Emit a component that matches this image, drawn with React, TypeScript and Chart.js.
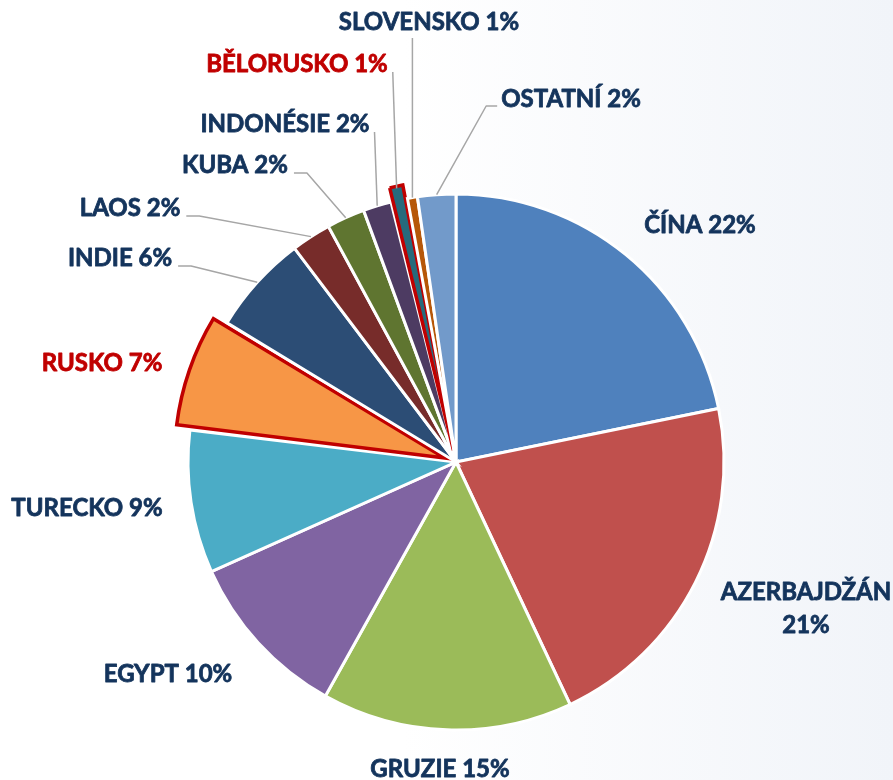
import React, { useEffect, useRef } from "react";
import { Chart, registerables } from "chart.js";

Chart.register(...registerables);

// ---- data ----
const countries = [
  "ČÍNA",
  "AZERBAJDŽÁN",
  "GRUZIE",
  "EGYPT",
  "TURECKO",
  "RUSKO",
  "INDIE",
  "LAOS",
  "KUBA",
  "INDONÉSIE",
  "BĚLORUSKO",
  "SLOVENSKO",
  "OSTATNÍ",
];
const shares = [21.8, 21.2, 15.1, 10.2, 8.6, 6.8, 6.0, 2.4, 2.3, 1.7, 1.0, 0.6, 2.3];
const highlighted = ["RUSKO", "BĚLORUSKO"];

// ---- styles ----
const sliceColors = [
  "#4F81BD",
  "#C0504D",
  "#9BBB59",
  "#8064A2",
  "#4BACC6",
  "#F79646",
  "#2C4D75",
  "#772C2A",
  "#5F7530",
  "#4D3B62",
  "#276A7C",
  "#B65708",
  "#729ACA",
];
const TEXT_COLOR = "#14345C";
const HIGHLIGHT_COLOR = "#C00000";
const LEADER_COLOR = "#A6A6A6";
const FONT = "bold 24px Lato, 'Open Sans', sans-serif";
const REF_R = 268;
const EXPLODE = 48; // Chart.js translates an arc by offset/4

// label anchor (text centre x, baseline y) relative to the pie centre, at radius REF_R
type Leader = "none" | "stubRight" | "cornerRight" | "below" | "stubLeft";
const labelDx = [244, 350, -16, -288, -369, -354, -336, -326, -221, -171, -159, -27, 115];
const labelDy = [-229, 138, 315, 220, 54, -91, -196, -246, -289, -330, -390, -432, -355];
const labelLeader: Leader[] = [
  "none",
  "none",
  "none",
  "none",
  "none",
  "none",
  "stubRight",
  "stubRight",
  "stubRight",
  "cornerRight",
  "cornerRight",
  "below",
  "stubLeft",
];
const labelWrap = [false, true, false, false, false, false, false, false, false, false, false, false, false];

// keep exploded slices at (about) the same radius as the rest
const explodeRadiusFix = {
  id: "explodeRadiusFix",
  beforeDatasetsDraw(chart: any) {
    const meta = chart.getDatasetMeta(0);
    const baseR = meta.controller.outerRadius;
    meta.data.forEach((el: any) => {
      const off = el.options.offset || 0;
      if (!off) return;
      const circ = el.endAngle - el.startAngle;
      const fix = 1 - Math.sin(Math.min(Math.PI, circ || 0));
      el.outerRadius = baseR + 2 - (off / 4) * fix;
    });
  },
};

const labelPlugin = {
  id: "sliceLabels",
  afterDatasetsDraw(chart: any) {
    const ctx: CanvasRenderingContext2D = chart.ctx;
    const meta = chart.getDatasetMeta(0);
    const R = meta.controller.outerRadius;
    ctx.save();
    ctx.font = FONT;
    ctx.textBaseline = "alphabetic";
    ctx.textAlign = "center";
    ctx.lineJoin = "round";
    meta.data.forEach((el: any, i: number) => {
      const { x, y, startAngle, endAngle } = el.getProps(["x", "y", "startAngle", "endAngle"], true);
      const off = (el.options.offset || 0) / 4;
      const mid = (startAngle + endAngle) / 2;
      const s = R / REF_R;
      const cx = x + labelDx[i] * s;
      const by = y + labelDy[i] * s;
      const pct = Math.round(shares[i]) + "%";
      const name = countries[i];
      const lines = labelWrap[i] ? [name, pct] : [name + " " + pct];
      const color = highlighted.includes(name) ? HIGHLIGHT_COLOR : TEXT_COLOR;

      const type = labelLeader[i];
      if (type !== "none") {
        const w = ctx.measureText(lines[0]).width;
        const px = x + Math.cos(mid) * (R + off);
        const py = y + Math.sin(mid) * (R + off);
        ctx.strokeStyle = LEADER_COLOR;
        ctx.lineWidth = 1.5;
        ctx.beginPath();
        if (type === "stubRight") {
          const sx = cx + w / 2 + 6;
          ctx.moveTo(sx, by);
          ctx.lineTo(sx + 13, by);
          ctx.lineTo(px, py);
        } else if (type === "cornerRight") {
          const sx = cx + w / 2 + 5;
          ctx.moveTo(sx, by);
          ctx.lineTo(px, py);
        } else if (type === "below") {
          ctx.moveTo(px, by + 8);
          ctx.lineTo(px, py);
        } else if (type === "stubLeft") {
          const sx = cx - w / 2 - 4;
          ctx.moveTo(sx, by - 1);
          ctx.lineTo(sx - 11, by - 1);
          ctx.lineTo(px, py);
        }
        ctx.stroke();
      }

      ctx.fillStyle = color;
      ctx.strokeStyle = color;
      ctx.lineWidth = 0.8;
      lines.forEach((t, k) => {
        ctx.fillText(t, cx, by + k * 33 * s);
        ctx.strokeText(t, cx, by + k * 33 * s);
      });
    });
    ctx.restore();
  },
};

export default function App() {
  const ref = useRef<HTMLCanvasElement | null>(null);
  useEffect(() => {
    if (!ref.current) return;
    const chart = new Chart(ref.current, {
      type: "pie",
      data: {
        labels: countries,
        datasets: [
          {
            data: shares,
            backgroundColor: sliceColors,
            borderColor: countries.map((c) => (highlighted.includes(c) ? HIGHLIGHT_COLOR : "#FFFFFF")),
            borderWidth: countries.map((c) => (highlighted.includes(c) ? 3.5 : 3)),
            borderJoinStyle: "miter",
            offset: countries.map((c) => (highlighted.includes(c) ? EXPLODE : 0)),
          } as any,
        ],
      },
      options: {
        animation: false,
        responsive: false,
        maintainAspectRatio: false,
        radius: 268,
        layout: { padding: { left: 19, top: 144, right: 0, bottom: 0 } },
        plugins: {
          legend: { display: false },
          tooltip: { enabled: false },
        },
        events: [],
      } as any,
      plugins: [explodeRadiusFix, labelPlugin],
    });
    return () => chart.destroy();
  }, []);
  return (
    <div
      style={{
        position: "fixed",
        left: 0,
        top: 0,
        width: 893,
        height: 780,
        background: "linear-gradient(90deg, #ffffff 0%, #ffffff 45%, #f1f4f9 100%)",
      }}
    >
      <canvas ref={ref} width={893} height={780} style={{ display: "block" }} />
    </div>
  );
}
